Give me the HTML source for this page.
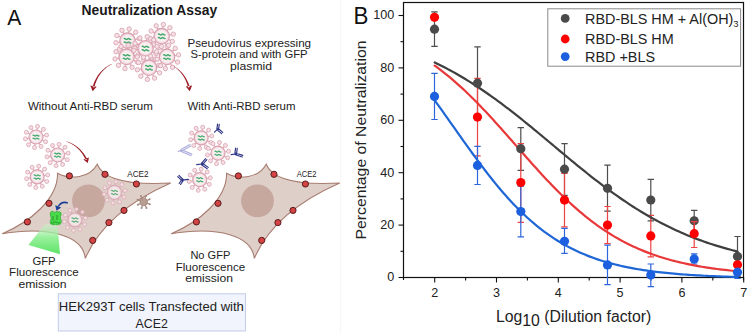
<!DOCTYPE html>
<html><head><meta charset="utf-8"><style>
html,body{margin:0;padding:0;background:#fff;}
svg{display:block;font-family:"Liberation Sans", sans-serif;}
</style></head><body>
<svg width="749" height="334" viewBox="0 0 749 334">
<defs>
<g id="virus">
  <path d="M0.84,-5.94L1.31,-9.31M4.17,-4.32L6.53,-6.76M5.91,-1.04L9.26,-1.63M5.39,2.63L8.45,4.12M2.82,5.30L4.41,8.30M-0.84,5.94L-1.31,9.31M-4.17,4.32L-6.53,6.76M-5.91,1.04L-9.26,1.63M-5.39,-2.63L-8.45,-4.12M-2.82,-5.30L-4.41,-8.30" stroke="#dba8b5" stroke-width="1.1"/>
  <g fill="#f6e0e5" stroke="#d9a4b1" stroke-width="0.8"><circle cx="1.49" cy="-10.60" r="2"/><circle cx="7.43" cy="-7.70" r="2"/><circle cx="10.54" cy="-1.86" r="2"/><circle cx="9.62" cy="4.69" r="2"/><circle cx="5.02" cy="9.45" r="2"/><circle cx="-1.49" cy="10.60" r="2"/><circle cx="-7.43" cy="7.70" r="2"/><circle cx="-10.54" cy="1.86" r="2"/><circle cx="-9.62" cy="-4.69" r="2"/><circle cx="-5.02" cy="-9.45" r="2"/></g>
  <circle r="7" fill="#f5dde3" stroke="#d9a4b1" stroke-width="1.2"/>
  <circle r="5.3" fill="#faeef1"/>
  <path d="M-3.4,-1.5 q0.85,-1 1.7,0 t1.7,0 t1.7,0 t1.7,0 M-3.4,1.7 q0.85,-1 1.7,0 t1.7,0 t1.7,0 t1.7,0" fill="none" stroke="#3fa86a" stroke-width="1.25"/>
</g>
<g id="ab">
  <path d="M0,0 L0,4 M0,0 L-3.2,-3.6 M0,0 L3.2,-3.6 M-1.2,0.2 L-1.2,4 M1.2,0.2 L1.2,4 M-1.6,-0.8 L-4.4,-4 M1.6,-0.8 L4.4,-4" fill="none" stroke-width="1.1" stroke-linecap="round"/>
</g>
<linearGradient id="beam" x1="0" y1="0" x2="0" y2="1">
  <stop offset="0" stop-color="#c8f4c8" stop-opacity="0.45"/>
  <stop offset="0.45" stop-color="#8cee90" stop-opacity="0.9"/>
  <stop offset="1" stop-color="#5ce466" stop-opacity="1"/>
</linearGradient>
</defs>
<text transform="translate(7.3,24.8) scale(0.96,1)" font-size="22" fill="#111">A</text>
<text x="81.5" y="14.5" font-size="14" font-weight="bold" fill="#1a1a1a" textLength="135.6" lengthAdjust="spacingAndGlyphs">Neutralization Assay</text>
<use href="#virus" transform="translate(127.5,40.7) scale(1.1)"/>
<use href="#virus" transform="translate(161.7,36.2) scale(1.1)"/>
<use href="#virus" transform="translate(126.6,56.9) scale(1.1)"/>
<use href="#virus" transform="translate(145.5,48.4) scale(1.1)"/>
<use href="#virus" transform="translate(167,56.9) scale(1.1)"/>
<use href="#virus" transform="translate(149,67.7) scale(1.1)"/>
<path d="M111.63,63.87 L110.46,64.45 L109.32,65.07 L108.21,65.72 L107.14,66.40 L106.10,67.12 L105.09,67.87 L104.11,68.65 L103.17,69.47 L102.25,70.31 L101.38,71.20 L100.53,72.11 L99.72,73.06 L98.94,74.04 L98.19,75.05 L97.48,76.10 L96.80,77.18 L96.15,78.29 L95.54,79.44 L94.96,80.62 L94.42,81.83 L93.91,83.07 L93.44,84.35 L93.00,85.66 L92.59,87.00 L94.34,87.46 L94.67,86.15 L95.03,84.87 L95.43,83.62 L95.86,82.41 L96.33,81.22 L96.83,80.06 L97.36,78.93 L97.93,77.82 L98.53,76.75 L99.17,75.71 L99.84,74.69 L100.54,73.71 L101.28,72.75 L102.06,71.82 L102.87,70.92 L103.71,70.05 L104.60,69.21 L105.51,68.39 L106.47,67.61 L107.45,66.86 L108.48,66.13 L109.54,65.44 L110.64,64.77 L111.77,64.13Z M92.60,91.20 L90.36,85.52 L96.66,86.64Z" fill="#9b1c24"/>
<path d="M173.92,66.53 L174.83,67.18 L175.71,67.86 L176.57,68.56 L177.39,69.28 L178.19,70.01 L178.96,70.76 L179.70,71.53 L180.41,72.32 L181.10,73.13 L181.75,73.96 L182.38,74.80 L182.98,75.67 L183.56,76.55 L184.10,77.45 L184.62,78.37 L185.11,79.30 L185.57,80.26 L186.01,81.23 L186.42,82.22 L186.80,83.23 L187.16,84.26 L187.48,85.31 L187.78,86.37 L188.06,87.46 L189.80,86.99 L189.45,85.88 L189.07,84.78 L188.67,83.71 L188.24,82.66 L187.79,81.63 L187.30,80.63 L186.79,79.65 L186.25,78.68 L185.69,77.74 L185.10,76.83 L184.48,75.93 L183.84,75.06 L183.17,74.20 L182.47,73.37 L181.75,72.57 L181.00,71.78 L180.22,71.02 L179.42,70.27 L178.60,69.55 L177.75,68.85 L176.87,68.18 L175.97,67.52 L175.04,66.89 L174.08,66.27Z M189.80,91.20 L185.76,86.62 L192.07,85.53Z" fill="#9b1c24"/>
<text x="187.5" y="47.4" font-size="11.5" fill="#222" textLength="123.6" lengthAdjust="spacingAndGlyphs">Pseudovirus expressing</text>
<text x="190.5" y="57.8" font-size="11.5" fill="#222" textLength="117.1" lengthAdjust="spacingAndGlyphs">S-protein and with GFP</text>
<text x="230.0" y="69.8" font-size="11.5" fill="#222" textLength="42.1" lengthAdjust="spacingAndGlyphs">plasmid</text>
<text x="27.9" y="109.6" font-size="11.2" fill="#222" textLength="125.0" lengthAdjust="spacingAndGlyphs">Without Anti-RBD serum</text>
<text x="187.4" y="109.6" font-size="11.2" fill="#222" textLength="108.1" lengthAdjust="spacingAndGlyphs">With Anti-RBD serum</text>
<path d="M2.2,233.7 C30,222 58,199 57.6,173.2 C70,180 90,178 97.2,164.2 C101,174 115,186 170.7,183 Q105,212 85.3,258.4 C83,236 50,226 2.2,233.7 Z" fill="#dfcfc9" stroke="#a87d70" stroke-width="1.1"/>
<circle cx="88.5" cy="200.8" r="16.4" fill="#c6a89f"/>
<path d="M45,224 L57.5,224.5 L60,254.2 L28.4,245 Z" fill="url(#beam)"/>
<circle cx="69.4" cy="175.9" r="3.1" fill="#d44444" stroke="#4a1515" stroke-width="0.9"/>
<circle cx="105" cy="174.3" r="3.1" fill="#d44444" stroke="#4a1515" stroke-width="0.9"/>
<circle cx="136.4" cy="184" r="3.1" fill="#d44444" stroke="#4a1515" stroke-width="0.9"/>
<circle cx="49" cy="203.3" r="3.1" fill="#d44444" stroke="#4a1515" stroke-width="0.9"/>
<circle cx="27.4" cy="221.9" r="3.1" fill="#d44444" stroke="#4a1515" stroke-width="0.9"/>
<circle cx="124" cy="210.4" r="3.1" fill="#d44444" stroke="#4a1515" stroke-width="0.9"/>
<circle cx="108.9" cy="222.6" r="3.1" fill="#d44444" stroke="#4a1515" stroke-width="0.9"/>
<circle cx="92.7" cy="240.4" r="3.1" fill="#d44444" stroke="#4a1515" stroke-width="0.9"/>
<use href="#virus" x="36" y="137"/>
<use href="#virus" x="57.6" y="155"/>
<use href="#virus" x="37.2" y="176.8"/>
<use href="#virus" x="114.5" y="192.4" opacity="0.8"/>
<use href="#virus" x="75" y="219.8" opacity="0.8"/>
<g transform="translate(143.7,202)"><path d="M2.82,1.03L5.83,2.12M1.27,2.72L2.62,5.62M-1.03,2.82L-2.12,5.83M-2.72,1.27L-5.62,2.62M-2.82,-1.03L-5.83,-2.12M-1.27,-2.72L-2.62,-5.62M1.03,-2.82L2.12,-5.83M2.72,-1.27L5.62,-2.62" stroke="#a3887c" stroke-width="1.2"/><g fill="#a3887c"><circle cx="6.11" cy="2.22" r="1"/><circle cx="2.75" cy="5.89" r="1"/><circle cx="-2.22" cy="6.11" r="1"/><circle cx="-5.89" cy="2.75" r="1"/><circle cx="-6.11" cy="-2.22" r="1"/><circle cx="-2.75" cy="-5.89" r="1"/><circle cx="2.22" cy="-6.11" r="1"/><circle cx="5.89" cy="-2.75" r="1"/></g><circle r="3.8" fill="#b89d92" stroke="#a3887c" stroke-width="0.8"/></g>
<g><path d="M50.5,212.5 q1,-2 2.5,-1 q1.5,1.5 2.5,0.5 q1.5,-1.2 3,0 q1.5,-1 2.5,1 q0.6,2 -0.6,3.5 q-0.6,1.5 0.6,3 q0.8,2 -0.2,4 q-1.2,1.8 -2.5,0.8 q-1.5,1.2 -3,0 q-1.5,1.2 -3,0 q-1.5,0.5 -2,-1.5 q-0.5,-2 0.6,-3.4 q0.7,-1.5 -0.2,-3 q-0.8,-2 -0.2,-3.9 z" fill="#48da48" stroke="#2aa82e" stroke-width="0.7"/><path d="M51,222.5 q1.5,1.5 3,0 t3,0 t3,0 M53,216 v5 M57,215 v5" stroke="#1f7a2a" stroke-width="0.7" fill="none"/></g>
<path d="M67.8,203 Q62,200.8 58.2,206.4" fill="none" stroke="#1d3f94" stroke-width="1.5"/>
<path d="M55.2,205.2 L61.2,207.6 L56.6,210.8 Z" fill="#1d3f94"/>
<path d="M66.35,141.54 L67.47,141.99 L68.57,142.48 L69.64,142.99 L70.68,143.52 L71.69,144.09 L72.67,144.68 L73.63,145.29 L74.55,145.94 L75.45,146.61 L76.32,147.31 L77.16,148.03 L77.98,148.78 L78.76,149.56 L79.52,150.37 L80.25,151.20 L80.95,152.06 L81.63,152.94 L82.27,153.85 L82.90,154.79 L83.49,155.76 L84.06,156.75 L84.60,157.76 L85.11,158.81 L85.60,159.88 L87.14,159.16 L86.58,158.07 L85.99,157.01 L85.37,155.98 L84.73,154.97 L84.06,154.00 L83.37,153.06 L82.65,152.15 L81.90,151.27 L81.12,150.42 L80.33,149.60 L79.50,148.80 L78.65,148.04 L77.77,147.31 L76.87,146.61 L75.94,145.94 L74.99,145.31 L74.01,144.70 L73.00,144.12 L71.97,143.57 L70.92,143.05 L69.84,142.55 L68.74,142.09 L67.61,141.66 L66.45,141.26Z M87.80,163.00 L83.34,159.51 L88.98,157.46Z" fill="#9b1c24"/>
<text x="127.2" y="177.3" font-size="9" fill="#222" textLength="21.4" lengthAdjust="spacingAndGlyphs">ACE2</text>
<path d="M171.2,233.7 C199,222 227,199 226.6,173.2 C239,180 259,178 266.2,164.2 C270,174 284,186 339.7,183 Q274,212 254.3,258.4 C252,236 219,226 171.2,233.7 Z" fill="#dfcfc9" stroke="#a87d70" stroke-width="1.1"/>
<circle cx="257.5" cy="200.8" r="16.4" fill="#c6a89f"/>
<circle cx="238.4" cy="175.9" r="3.1" fill="#d44444" stroke="#4a1515" stroke-width="0.9"/>
<circle cx="274" cy="174.3" r="3.1" fill="#d44444" stroke="#4a1515" stroke-width="0.9"/>
<circle cx="305.4" cy="184" r="3.1" fill="#d44444" stroke="#4a1515" stroke-width="0.9"/>
<circle cx="218" cy="203.3" r="3.1" fill="#d44444" stroke="#4a1515" stroke-width="0.9"/>
<circle cx="196.4" cy="221.9" r="3.1" fill="#d44444" stroke="#4a1515" stroke-width="0.9"/>
<circle cx="293" cy="210.4" r="3.1" fill="#d44444" stroke="#4a1515" stroke-width="0.9"/>
<circle cx="277.9" cy="222.6" r="3.1" fill="#d44444" stroke="#4a1515" stroke-width="0.9"/>
<circle cx="261.7" cy="240.4" r="3.1" fill="#d44444" stroke="#4a1515" stroke-width="0.9"/>
<text x="296.7" y="177.3" font-size="9" fill="#222" textLength="19.8" lengthAdjust="spacingAndGlyphs">ACE2</text>
<use href="#virus" x="201.2" y="137.8"/>
<use href="#virus" x="218" y="153.1"/>
<use href="#virus" x="199.7" y="179.7"/>
<path d="M217.7,129.2 L214.444,132.192 M218.54,129.32 L219.25,124.30 M216.86,129.08 L217.56,124.07 M217.15,129.85 L221.64,133.63 M218.25,128.55 L222.74,132.33" stroke="#2f3585" stroke-width="1.15" fill="none" stroke-linecap="round"/>
<path d="M181,150.5 L178.36,151.38 M181.42,151.24 L190.66,145.96 M180.58,149.76 L189.82,144.48 M180.67,151.28 L191.23,155.68 M181.33,149.72 L191.89,154.12" stroke="#aeaedc" stroke-width="1.15" fill="none" stroke-linecap="round"/>
<path d="M235.7,154 L231.124,154.61599999999999 M236.54,154.10 L237.25,148.38 M234.86,153.90 L235.56,148.18 M235.44,154.81 L242.30,157.01 M235.96,153.19 L242.82,155.39" stroke="#2f3585" stroke-width="1.15" fill="none" stroke-linecap="round"/>
<path d="M202,164 L196.72,164.61599999999999 M202.64,164.56 L206.86,159.72 M201.36,163.44 L205.58,158.60 M201.51,164.69 L207.23,168.74 M202.49,163.31 L208.21,167.35" stroke="#2f3585" stroke-width="1.15" fill="none" stroke-linecap="round"/>
<path d="M182.5,180.1 L188.396,179.308 M183.09,179.49 L178.96,175.44 M181.91,180.71 L177.77,176.66 M181.80,179.62 L179.16,183.49 M183.20,180.58 L180.56,184.45" stroke="#2f3585" stroke-width="1.15" fill="none" stroke-linecap="round"/>
<text x="32.4" y="265.2" font-size="10.5" fill="#222" textLength="23.2" lengthAdjust="spacingAndGlyphs">GFP</text>
<text x="9.1" y="276.4" font-size="10.5" fill="#222" textLength="69.7" lengthAdjust="spacingAndGlyphs">Fluorescence</text>
<text x="18.4" y="287.9" font-size="10.5" fill="#222" textLength="48.1" lengthAdjust="spacingAndGlyphs">emission</text>
<text x="190.4" y="259.4" font-size="10.5" fill="#222" textLength="39.9" lengthAdjust="spacingAndGlyphs">No GFP</text>
<text x="175.7" y="270.5" font-size="10.5" fill="#222" textLength="69.5" lengthAdjust="spacingAndGlyphs">Fluorescence</text>
<text x="185.2" y="281.7" font-size="10.5" fill="#222" textLength="47.8" lengthAdjust="spacingAndGlyphs">emission</text>
<rect x="58.3" y="293.8" width="187.2" height="37.2" fill="#f1f4fc" stroke="#c3cce8" stroke-width="1"/>
<text x="58.8" y="311.2" font-size="12.3" fill="#222" textLength="185.1" lengthAdjust="spacingAndGlyphs">HEK293T cells Transfected with</text>
<text x="135.5" y="328.3" font-size="12.3" fill="#222" textLength="32.3" lengthAdjust="spacingAndGlyphs">ACE2</text>
<line x1="340.5" y1="0" x2="340.5" y2="334" stroke="#f7f7f7" stroke-width="1"/>
<text transform="translate(353.6,24.4) scale(0.95,1)" font-size="23.5" fill="#111">B</text>
<rect x="403.5" y="2.5" width="340.0" height="275.0" fill="none" stroke="#111" stroke-width="1.2"/>
<path d="M403.5,277.5 V280.0 M743.5,277.5 V280.0" stroke="#111" stroke-width="1.1"/>
<line x1="398.5" y1="277.50" x2="403.5" y2="277.50" stroke="#111" stroke-width="1.1"/>
<text x="394.2" y="281.40" font-size="12.6" fill="#222" text-anchor="end">0</text>
<line x1="400.5" y1="251.30" x2="403.5" y2="251.30" stroke="#111" stroke-width="1.1"/>
<line x1="398.5" y1="225.10" x2="403.5" y2="225.10" stroke="#111" stroke-width="1.1"/>
<text x="394.2" y="229.00" font-size="12.6" fill="#222" text-anchor="end">20</text>
<line x1="400.5" y1="198.90" x2="403.5" y2="198.90" stroke="#111" stroke-width="1.1"/>
<line x1="398.5" y1="172.70" x2="403.5" y2="172.70" stroke="#111" stroke-width="1.1"/>
<text x="394.2" y="176.60" font-size="12.6" fill="#222" text-anchor="end">40</text>
<line x1="400.5" y1="146.50" x2="403.5" y2="146.50" stroke="#111" stroke-width="1.1"/>
<line x1="398.5" y1="120.30" x2="403.5" y2="120.30" stroke="#111" stroke-width="1.1"/>
<text x="394.2" y="124.20" font-size="12.6" fill="#222" text-anchor="end">60</text>
<line x1="400.5" y1="94.10" x2="403.5" y2="94.10" stroke="#111" stroke-width="1.1"/>
<line x1="398.5" y1="67.90" x2="403.5" y2="67.90" stroke="#111" stroke-width="1.1"/>
<text x="394.2" y="71.80" font-size="12.6" fill="#222" text-anchor="end">80</text>
<line x1="400.5" y1="41.70" x2="403.5" y2="41.70" stroke="#111" stroke-width="1.1"/>
<line x1="398.5" y1="15.50" x2="403.5" y2="15.50" stroke="#111" stroke-width="1.1"/>
<text x="394.2" y="19.40" font-size="12.6" fill="#222" text-anchor="end">100</text>
<line x1="434.70" y1="277.5" x2="434.70" y2="282.5" stroke="#111" stroke-width="1.1"/>
<text x="434.70" y="296.6" font-size="12.6" fill="#222" text-anchor="middle">2</text>
<line x1="465.60" y1="277.5" x2="465.60" y2="280.5" stroke="#111" stroke-width="1.1"/>
<line x1="496.50" y1="277.5" x2="496.50" y2="282.5" stroke="#111" stroke-width="1.1"/>
<text x="496.50" y="296.6" font-size="12.6" fill="#222" text-anchor="middle">3</text>
<line x1="527.40" y1="277.5" x2="527.40" y2="280.5" stroke="#111" stroke-width="1.1"/>
<line x1="558.30" y1="277.5" x2="558.30" y2="282.5" stroke="#111" stroke-width="1.1"/>
<text x="558.30" y="296.6" font-size="12.6" fill="#222" text-anchor="middle">4</text>
<line x1="589.20" y1="277.5" x2="589.20" y2="280.5" stroke="#111" stroke-width="1.1"/>
<line x1="620.10" y1="277.5" x2="620.10" y2="282.5" stroke="#111" stroke-width="1.1"/>
<text x="620.10" y="296.6" font-size="12.6" fill="#222" text-anchor="middle">5</text>
<line x1="651.00" y1="277.5" x2="651.00" y2="280.5" stroke="#111" stroke-width="1.1"/>
<line x1="681.90" y1="277.5" x2="681.90" y2="282.5" stroke="#111" stroke-width="1.1"/>
<text x="681.90" y="296.6" font-size="12.6" fill="#222" text-anchor="middle">6</text>
<line x1="712.80" y1="277.5" x2="712.80" y2="280.5" stroke="#111" stroke-width="1.1"/>
<line x1="743.70" y1="277.5" x2="743.70" y2="282.5" stroke="#111" stroke-width="1.1"/>
<text x="743.70" y="296.6" font-size="12.6" fill="#222" text-anchor="middle">7</text>
<text transform="translate(366.3,140) rotate(-90)" font-size="15" fill="#222" text-anchor="middle" textLength="199" lengthAdjust="spacingAndGlyphs">Percentage of Neutralization</text>
<text x="495.9" y="321.9" font-size="15.8" fill="#222">Log<tspan dy="4">10</tspan><tspan dy="-4"> (Dilution factor)</tspan></text>
<path d="M434.50,11.8 V46.3 M431.30,11.8 h6.4 M431.30,46.3 h6.4" stroke="#4e4e4e" stroke-width="1.2" fill="none"/>
<path d="M477.50,46.8 V119.6 M474.30,46.8 h6.4 M474.30,119.6 h6.4" stroke="#4e4e4e" stroke-width="1.2" fill="none"/>
<path d="M520.80,127.6 V170.3 M517.60,127.6 h6.4 M517.60,170.3 h6.4" stroke="#4e4e4e" stroke-width="1.2" fill="none"/>
<path d="M564.50,143.6 V195.3 M561.30,143.6 h6.4 M561.30,195.3 h6.4" stroke="#4e4e4e" stroke-width="1.2" fill="none"/>
<path d="M607.50,165.2 V211.1 M604.30,165.2 h6.4 M604.30,211.1 h6.4" stroke="#4e4e4e" stroke-width="1.2" fill="none"/>
<path d="M650.80,179.4 V220.9 M647.60,179.4 h6.4 M647.60,220.9 h6.4" stroke="#4e4e4e" stroke-width="1.2" fill="none"/>
<path d="M694.20,210.4 V231.2 M691.00,210.4 h6.4 M691.00,231.2 h6.4" stroke="#4e4e4e" stroke-width="1.2" fill="none"/>
<path d="M737.50,236.5 V276.3 M734.30,236.5 h6.4 M734.30,276.3 h6.4" stroke="#4e4e4e" stroke-width="1.2" fill="none"/>
<path d="M434.50,15 V19.6 M431.30,15 h6.4 M431.30,19.6 h6.4" stroke="#ee4444" stroke-width="1.2" fill="none"/>
<path d="M477.50,78.3 V155.9 M474.30,78.3 h6.4 M474.30,155.9 h6.4" stroke="#ee4444" stroke-width="1.2" fill="none"/>
<path d="M520.80,143.6 V222.3 M517.60,143.6 h6.4 M517.60,222.3 h6.4" stroke="#ee4444" stroke-width="1.2" fill="none"/>
<path d="M564.50,173.4 V226.9 M561.30,173.4 h6.4 M561.30,226.9 h6.4" stroke="#ee4444" stroke-width="1.2" fill="none"/>
<path d="M607.50,206.5 V243.6 M604.30,206.5 h6.4 M604.30,243.6 h6.4" stroke="#ee4444" stroke-width="1.2" fill="none"/>
<path d="M650.80,215.3 V256.9 M647.60,215.3 h6.4 M647.60,256.9 h6.4" stroke="#ee4444" stroke-width="1.2" fill="none"/>
<path d="M694.20,221.7 V247.5 M691.00,221.7 h6.4 M691.00,247.5 h6.4" stroke="#ee4444" stroke-width="1.2" fill="none"/>
<path d="M737.50,258 V271.5 M734.30,258 h6.4 M734.30,271.5 h6.4" stroke="#ee4444" stroke-width="1.2" fill="none"/>
<path d="M434.50,73.4 V119.5 M431.30,73.4 h6.4 M431.30,119.5 h6.4" stroke="#2f66dc" stroke-width="1.2" fill="none"/>
<path d="M477.50,146.4 V184.5 M474.30,146.4 h6.4 M474.30,184.5 h6.4" stroke="#2f66dc" stroke-width="1.2" fill="none"/>
<path d="M520.80,186.1 V236.9 M517.60,186.1 h6.4 M517.60,236.9 h6.4" stroke="#2f66dc" stroke-width="1.2" fill="none"/>
<path d="M564.50,228.4 V253.3 M561.30,228.4 h6.4 M561.30,253.3 h6.4" stroke="#2f66dc" stroke-width="1.2" fill="none"/>
<path d="M607.50,245.2 V284.6 M604.30,245.2 h6.4 M604.30,284.6 h6.4" stroke="#2f66dc" stroke-width="1.2" fill="none"/>
<path d="M650.80,264 V286.7 M647.60,264 h6.4 M647.60,286.7 h6.4" stroke="#2f66dc" stroke-width="1.2" fill="none"/>
<path d="M694.20,253.8 V264 M691.00,253.8 h6.4 M691.00,264 h6.4" stroke="#2f66dc" stroke-width="1.2" fill="none"/>
<path d="M737.50,266 V278.4 M734.30,266 h6.4 M734.30,278.4 h6.4" stroke="#2f66dc" stroke-width="1.2" fill="none"/>
<polyline points="434.70,62.45 437.24,63.68 439.79,64.94 442.33,66.22 444.88,67.53 447.42,68.87 449.97,70.24 452.51,71.63 455.06,73.05 457.60,74.50 460.15,75.97 462.69,77.48 465.24,79.01 467.78,80.57 470.33,82.15 472.87,83.77 475.42,85.41 477.96,87.07 480.50,88.76 483.05,90.48 485.59,92.23 488.14,93.99 490.68,95.79 493.23,97.60 495.77,99.44 498.32,101.30 500.86,103.19 503.41,105.09 505.95,107.02 508.50,108.96 511.04,110.93 513.59,112.91 516.13,114.91 518.68,116.93 521.22,118.96 523.76,121.00 526.31,123.06 528.85,125.14 531.40,127.22 533.94,129.31 536.49,131.41 539.03,133.52 541.58,135.64 544.12,137.76 546.67,139.88 549.21,142.01 551.76,144.14 554.30,146.28 556.85,148.41 559.39,150.54 561.94,152.66 564.48,154.78 567.02,156.90 569.57,159.01 572.11,161.11 574.66,163.21 577.20,165.29 579.75,167.36 582.29,169.42 584.84,171.47 587.38,173.50 589.93,175.52 592.47,177.52 595.02,179.51 597.56,181.47 600.11,183.42 602.65,185.35 605.20,187.26 607.74,189.14 610.28,191.01 612.83,192.85 615.37,194.67 617.92,196.46 620.46,198.23 623.01,199.98 625.55,201.70 628.10,203.39 630.64,205.06 633.19,206.70 635.73,208.32 638.28,209.90 640.82,211.47 643.37,213.00 645.91,214.51 648.46,215.98 651.00,217.44 653.54,218.86 656.09,220.26 658.63,221.62 661.18,222.96 663.72,224.28 666.27,225.56 668.81,226.82 671.36,228.05 673.90,229.26 676.45,230.44 678.99,231.59 681.54,232.71 684.08,233.81 686.63,234.89 689.17,235.93 691.72,236.96 694.26,237.96 696.80,238.93 699.35,239.88 701.89,240.81 704.44,241.71 706.98,242.59 709.53,243.45 712.07,244.28 714.62,245.10 717.16,245.89 719.71,246.66 722.25,247.41 724.80,248.14 727.34,248.85 729.89,249.55 732.43,250.22 734.98,250.87 737.52,251.51" fill="none" stroke="#3f3f3f" stroke-width="2.2" stroke-linecap="round"/>
<polyline points="434.70,65.62 437.24,67.47 439.79,69.37 442.33,71.32 444.88,73.32 447.42,75.37 449.97,77.47 452.51,79.62 455.06,81.81 457.60,84.05 460.15,86.34 462.69,88.68 465.24,91.06 467.78,93.49 470.33,95.95 472.87,98.46 475.42,101.01 477.96,103.60 480.50,106.23 483.05,108.89 485.59,111.58 488.14,114.30 490.68,117.06 493.23,119.83 495.77,122.64 498.32,125.46 500.86,128.31 503.41,131.17 505.95,134.04 508.50,136.93 511.04,139.82 513.59,142.72 516.13,145.62 518.68,148.53 521.22,151.43 523.76,154.32 526.31,157.20 528.85,160.08 531.40,162.94 533.94,165.78 536.49,168.60 539.03,171.40 541.58,174.18 544.12,176.93 546.67,179.65 549.21,182.34 551.76,185.00 554.30,187.62 556.85,190.20 559.39,192.75 561.94,195.26 564.48,197.72 567.02,200.14 569.57,202.52 572.11,204.85 574.66,207.14 577.20,209.37 579.75,211.56 582.29,213.71 584.84,215.80 587.38,217.85 589.93,219.84 592.47,221.79 595.02,223.68 597.56,225.53 600.11,227.33 602.65,229.08 605.20,230.78 607.74,232.43 610.28,234.04 612.83,235.59 615.37,237.10 617.92,238.57 620.46,239.99 623.01,241.36 625.55,242.70 628.10,243.98 630.64,245.23 633.19,246.44 635.73,247.60 638.28,248.73 640.82,249.81 643.37,250.86 645.91,251.87 648.46,252.85 651.00,253.79 653.54,254.70 656.09,255.58 658.63,256.42 661.18,257.23 663.72,258.02 666.27,258.77 668.81,259.50 671.36,260.19 673.90,260.87 676.45,261.51 678.99,262.13 681.54,262.73 684.08,263.30 686.63,263.86 689.17,264.39 691.72,264.90 694.26,265.38 696.80,265.85 699.35,266.31 701.89,266.74 704.44,267.15 706.98,267.55 709.53,267.94 712.07,268.30 714.62,268.66 717.16,268.99 719.71,269.32 722.25,269.63 724.80,269.93 727.34,270.21 729.89,270.49 732.43,270.75 734.98,271.00 737.52,271.25" fill="none" stroke="#e8383a" stroke-width="2.2" stroke-linecap="round"/>
<polyline points="434.70,100.35 437.24,103.87 439.79,107.41 442.33,110.97 444.88,114.56 447.42,118.15 449.97,121.76 452.51,125.37 455.06,128.98 457.60,132.59 460.15,136.20 462.69,139.79 465.24,143.37 467.78,146.93 470.33,150.47 472.87,153.99 475.42,157.47 477.96,160.92 480.50,164.33 483.05,167.70 485.59,171.03 488.14,174.32 490.68,177.55 493.23,180.74 495.77,183.87 498.32,186.95 500.86,189.96 503.41,192.92 505.95,195.82 508.50,198.66 511.04,201.43 513.59,204.14 516.13,206.78 518.68,209.36 521.22,211.87 523.76,214.31 526.31,216.69 528.85,219.01 531.40,221.25 533.94,223.43 536.49,225.55 539.03,227.60 541.58,229.59 544.12,231.51 546.67,233.37 549.21,235.18 551.76,236.92 554.30,238.60 556.85,240.22 559.39,241.79 561.94,243.30 564.48,244.75 567.02,246.16 569.57,247.51 572.11,248.81 574.66,250.06 577.20,251.26 579.75,252.42 582.29,253.54 584.84,254.61 587.38,255.63 589.93,256.62 592.47,257.57 595.02,258.48 597.56,259.35 600.11,260.19 602.65,260.99 605.20,261.76 607.74,262.50 610.28,263.20 612.83,263.88 615.37,264.53 617.92,265.15 620.46,265.74 623.01,266.31 625.55,266.86 628.10,267.38 630.64,267.88 633.19,268.36 635.73,268.81 638.28,269.25 640.82,269.66 643.37,270.06 645.91,270.44 648.46,270.81 651.00,271.16 653.54,271.49 656.09,271.81 658.63,272.11 661.18,272.40 663.72,272.68 666.27,272.95 668.81,273.20 671.36,273.44 673.90,273.67 676.45,273.89 678.99,274.10 681.54,274.30 684.08,274.49 686.63,274.68 689.17,274.85 691.72,275.02 694.26,275.18 696.80,275.33 699.35,275.47 701.89,275.61 704.44,275.74 706.98,275.87 709.53,275.99 712.07,276.11 714.62,276.21 717.16,276.32 719.71,276.42 722.25,276.51 724.80,276.60 727.34,276.69 729.89,276.77 732.43,276.85 734.98,276.93 737.52,277.00" fill="none" stroke="#1f66d6" stroke-width="2.2" stroke-linecap="round"/>
<circle cx="434.50" cy="29.2" r="4.6" fill="#4a4a4a"/>
<circle cx="477.50" cy="83.2" r="4.6" fill="#4a4a4a"/>
<circle cx="520.80" cy="148.7" r="4.6" fill="#4a4a4a"/>
<circle cx="564.50" cy="169.2" r="4.6" fill="#4a4a4a"/>
<circle cx="607.50" cy="188.3" r="4.6" fill="#4a4a4a"/>
<circle cx="650.80" cy="200" r="4.6" fill="#4a4a4a"/>
<circle cx="694.20" cy="220.8" r="4.6" fill="#4a4a4a"/>
<circle cx="737.50" cy="256.4" r="4.6" fill="#4a4a4a"/>
<path d="M694.2,221.7 V229 M691.00,221.7 h6.4" stroke="#ee4444" stroke-width="1.2" fill="none"/>
<circle cx="434.50" cy="17.3" r="4.6" fill="#ff0000"/>
<circle cx="477.50" cy="117.1" r="4.6" fill="#ff0000"/>
<circle cx="520.80" cy="182.5" r="4.6" fill="#ff0000"/>
<circle cx="564.50" cy="200.1" r="4.6" fill="#ff0000"/>
<circle cx="607.50" cy="225.1" r="4.6" fill="#ff0000"/>
<circle cx="650.80" cy="235.9" r="4.6" fill="#ff0000"/>
<circle cx="694.20" cy="233.7" r="4.6" fill="#ff0000"/>
<circle cx="737.50" cy="264.8" r="4.6" fill="#ff0000"/>
<circle cx="434.50" cy="96.4" r="4.6" fill="#1c60e0"/>
<circle cx="477.50" cy="165.4" r="4.6" fill="#1c60e0"/>
<circle cx="520.80" cy="211.5" r="4.6" fill="#1c60e0"/>
<circle cx="564.50" cy="241.3" r="4.6" fill="#1c60e0"/>
<circle cx="607.50" cy="264.9" r="4.6" fill="#1c60e0"/>
<circle cx="650.80" cy="274.9" r="4.6" fill="#1c60e0"/>
<circle cx="694.20" cy="258.9" r="4.6" fill="#1c60e0"/>
<circle cx="737.50" cy="272.2" r="4.6" fill="#1c60e0"/>
<rect x="547.8" y="8.8" width="192.8" height="57.4" fill="#fff" stroke="#8a8a8a" stroke-width="1"/>
<circle cx="565.2" cy="18.4" r="4.4" fill="#4a4a4a"/><circle cx="565.2" cy="39" r="4.4" fill="#ff0000"/><circle cx="565.2" cy="56.6" r="4.4" fill="#1c60e0"/>
<text x="585" y="23.6" font-size="14.4" fill="#222">RBD-BLS HM + Al(OH)<tspan font-size="9.4" dy="3.4">3</tspan></text>
<text x="585" y="44.1" font-size="14.4" fill="#222">RBD-BLS HM</text>
<text x="585" y="61.9" font-size="14.4" fill="#222">RBD +BLS</text>
</svg></body></html>
